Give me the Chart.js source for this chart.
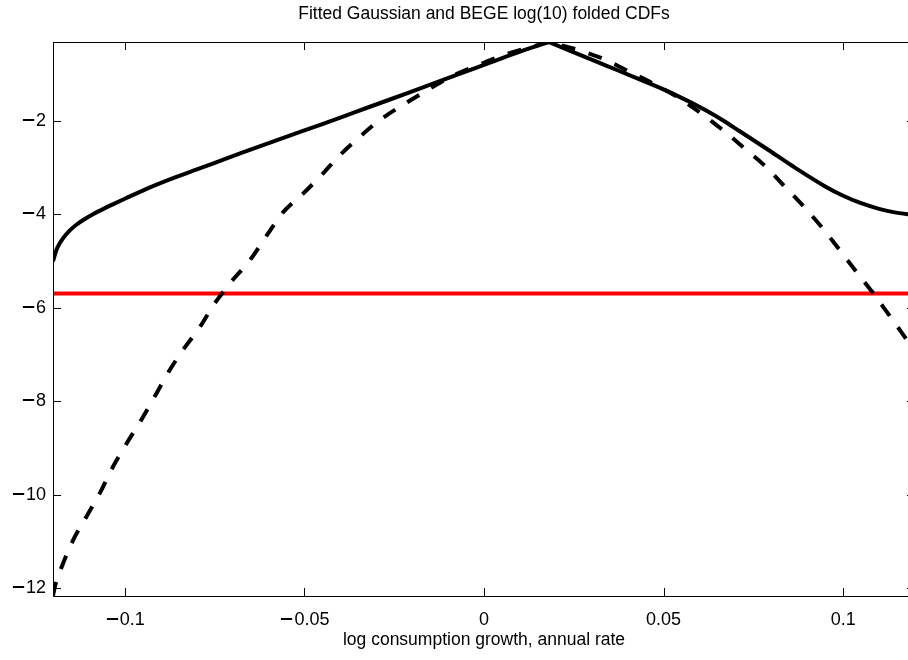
<!DOCTYPE html>
<html>
<head>
<meta charset="utf-8">
<script src="https://cdn.jsdelivr.net/npm/chart.js@4.4.1/dist/chart.umd.min.js"></script>
<style>
/* wide minus sign for the tick labels, digits stay Liberation Sans */
@font-face {
    font-family: 'TickMinus';
    src: local('DejaVu Sans'), local('DejaVuSans');
    unicode-range: U+2212;
}
html, body { margin: 0; padding: 0; background: #fff; overflow: hidden; }
#wrap { width: 930px; height: 660px; }
</style>
</head>
<body>
<div id="wrap"><canvas id="cdfChart" width="930" height="660"></canvas></div>
<script>
// BEGE fitted log10 folded CDF (solid)
const begeX = [-0.12, -0.119, -0.118, -0.1165, -0.1153, -0.1135, -0.1116, -0.109, -0.107, -0.1035, -0.1,
    -0.093, -0.086, -0.079, -0.072, -0.065, -0.058, -0.051, -0.045, -0.0355, -0.026, -0.017, -0.0076,
    0.0017, 0.011, 0.0175, 0.018, 0.0185, 0.025, 0.034, 0.043, 0.053, 0.062, 0.0666, 0.071, 0.079, 0.086, 0.095,
    0.1, 0.105, 0.11, 0.114, 0.12];
const begeY = [-5.0, -4.75, -4.6, -4.44, -4.34, -4.22, -4.12, -4.0, -3.92, -3.79, -3.665,
    -3.42, -3.205, -3.01, -2.81, -2.615, -2.42, -2.23, -2.065, -1.8, -1.535, -1.28, -1.015,
    -0.75, -0.49, -0.325, -0.31, -0.326, -0.53, -0.815, -1.1, -1.43, -1.78, -1.99, -2.21, -2.61, -2.97, -3.4,
    -3.6, -3.76, -3.88, -3.95, -4.02];

// fitted Gaussian log10 folded CDF (dashed)
const gaussX = [-0.12, -0.1195, -0.1172, -0.1144, -0.1107, -0.107, -0.1033, -0.0995, -0.0949, -0.0912,
    -0.0875, -0.0838, -0.0791, -0.0754, -0.0708, -0.0652, -0.0605, -0.0559, -0.0503, -0.0448, -0.0401,
    -0.0346, -0.029, -0.0216, -0.0151, -0.0086, -0.0012, 0.0054, 0.0128, 0.0175, 0.018, 0.0185, 0.0267, 0.0341, 0.0406,
    0.0476, 0.0545, 0.0666, 0.0726, 0.0782, 0.0833, 0.0889, 0.094, 0.0987, 0.1033, 0.108, 0.1121, 0.1163, 0.12];
const gaussY = [-12.16, -11.97, -11.47, -10.97, -10.47, -9.97, -9.4, -8.9, -8.33, -7.83,
    -7.33, -6.9, -6.41, -5.95, -5.48, -4.98, -4.45, -3.95, -3.55, -3.12, -2.73,
    -2.34, -1.98, -1.61, -1.31, -1.03, -0.79, -0.59, -0.42, -0.32, -0.31, -0.32, -0.49, -0.7, -0.95,
    -1.22, -1.52, -2.2, -2.59, -2.96, -3.37, -3.82, -4.27, -4.73, -5.19, -5.65, -6.08, -6.53, -6.94];

// horizontal reference level (red)
const refX = [-0.12, 0.12];
const refY = [-5.69, -5.69];

const xTicks = [-0.1, -0.05, 0, 0.05, 0.1];
const xTickLabels = ['\u22120.1', '\u22120.05', '0', '0.05', '0.1'];
const yTicks = [-12, -10, -8, -6, -4, -2];
const yTickLabels = ['\u221212', '\u221210', '\u22128', '\u22126', '\u22124', '\u22122'];

const titleText = 'Fitted Gaussian and BEGE log(10) folded CDFs';
const xTitle = 'log consumption growth, annual rate';

const fontFamily = "'Liberation Sans', Arial, Helvetica, sans-serif";
const tickFamily = "TickMinus, 'Liberation Sans', Arial, sans-serif";

function toPoints(xs, ys) {
    return xs.map((x, i) => ({ x: x, y: ys[i] }));
}

// box round the axes, ticks pointing inward, title over the plot
const frameTicks = {
    id: 'frameTicks',
    afterDraw(chart) {
        const ctx = chart.ctx;
        const a = chart.chartArea;
        const sx = chart.scales.x;
        const sy = chart.scales.y;
        const len = 8;
        ctx.save();
        ctx.strokeStyle = '#000';
        ctx.lineWidth = 1;
        ctx.strokeRect(a.left + 0.5, a.top + 0.5, a.right - a.left, a.bottom - a.top);
        ctx.beginPath();
        xTicks.forEach(v => {
            const px = Math.round(sx.getPixelForValue(v)) + 0.5;
            ctx.moveTo(px, a.bottom);
            ctx.lineTo(px, a.bottom - len);
            ctx.moveTo(px, a.top);
            ctx.lineTo(px, a.top + len);
        });
        yTicks.forEach(v => {
            const py = Math.round(sy.getPixelForValue(v)) + 0.5;
            ctx.moveTo(a.left, py);
            ctx.lineTo(a.left + len, py);
            ctx.moveTo(a.right, py);
            ctx.lineTo(a.right - len, py);
        });
        ctx.stroke();
        ctx.fillStyle = '#000';
        ctx.font = '17.5px ' + fontFamily;
        ctx.textAlign = 'center';
        ctx.textBaseline = 'middle';
        ctx.fillText(titleText, (a.left + a.right) / 2, 14);
        ctx.restore();
    }
};

function drawChart() {
    const ctx = document.getElementById('cdfChart').getContext('2d');
    new Chart(ctx, {
        type: 'scatter',
        data: {
            datasets: [
                {
                    label: 'Gaussian',
                    data: toPoints(gaussX, gaussY),
                    showLine: true,
                    borderColor: '#000',
                    borderWidth: 4,
                    borderDash: [14, 14],
                    pointRadius: 0,
                    cubicInterpolationMode: 'monotone',
                    order: 1
                },
                {
                    label: 'BEGE',
                    data: toPoints(begeX, begeY),
                    showLine: true,
                    borderColor: '#000',
                    borderWidth: 4,
                    pointRadius: 0,
                    cubicInterpolationMode: 'monotone',
                    order: 2
                },
                {
                    label: 'level',
                    data: toPoints(refX, refY),
                    showLine: true,
                    borderColor: '#ff0000',
                    borderWidth: 4,
                    pointRadius: 0,
                    order: 3
                }
            ]
        },
        options: {
            responsive: false,
            animation: false,
            layout: { padding: { top: 42, right: 15, left: 0, bottom: 0 } },
            plugins: {
                legend: { display: false },
                tooltip: { enabled: false }
            },
            scales: {
                x: {
                    type: 'linear',
                    min: -0.12,
                    max: 0.12,
                    grid: { display: false, drawTicks: false },
                    border: { display: false },
                    afterBuildTicks: s => { s.ticks = xTicks.map(v => ({ value: v })); },
                    afterFit: s => { s.height = 64; },
                    ticks: {
                        color: '#000',
                        font: { family: tickFamily, size: 18 },
                        padding: 13,
                        maxRotation: 0,
                        autoSkip: false,
                        callback: (v, i) => xTickLabels[i]
                    },
                    title: {
                        display: true,
                        text: xTitle,
                        color: '#000',
                        font: { family: fontFamily, size: 17.5 },
                        padding: { top: 0, bottom: 9 }
                    }
                },
                y: {
                    type: 'linear',
                    min: -12.165,
                    max: -0.31,
                    grid: { display: false, drawTicks: false },
                    border: { display: false },
                    afterBuildTicks: s => { s.ticks = yTicks.map(v => ({ value: v })); },
                    afterFit: s => { s.width = 53; },
                    ticks: {
                        color: '#000',
                        font: { family: tickFamily, size: 18 },
                        padding: 7,
                        autoSkip: false,
                        callback: (v, i) => yTickLabels[i]
                    }
                }
            }
        },
        plugins: [frameTicks]
    });
}

// make sure the minus glyph font is ready before the canvas draws text
document.fonts.load('18px TickMinus', '\u2212').then(drawChart, drawChart);
</script>
</body>
</html>
